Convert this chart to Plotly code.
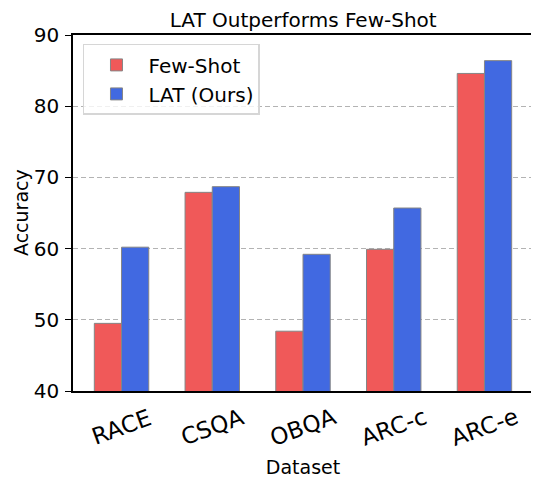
import plotly.graph_objects as go

categories = ["RACE", "CSQA", "OBQA", "ARC-c", "ARC-e"]
few_shot = [49.5, 67.9, 48.4, 59.9, 84.6]
lat_ours = [60.2, 68.7, 59.2, 65.7, 86.4]
y_ticks = [40, 50, 60, 70, 80, 90]

xi = list(range(len(categories)))
w = 0.3

fig = go.Figure()
fig.add_bar(x=[i - w / 2 for i in xi], y=few_shot, width=w, name="Few-Shot",
            legendgroup="a",
            marker=dict(color="#F05959", line=dict(color="#858585", width=1)))
fig.add_bar(x=[i + w / 2 for i in xi], y=lat_ours, width=w, name="LAT (Ours)",
            legendgroup="b",
            marker=dict(color="#4169E1", line=dict(color="#858585", width=1)))

# category labels, rotated and centred on each group (matplotlib style)
for i, c in zip(xi, categories):
    fig.add_annotation(x=i, y=-0.101, xref="x", yref="paper", text=c,
                       showarrow=False, textangle=-20, xanchor="center",
                       yanchor="middle", font=dict(size=23))

# y-axis title
fig.add_annotation(x=-0.113, y=0.5, xref="paper", yref="paper", text="Accuracy",
                   showarrow=False, textangle=-90, xanchor="center", yanchor="middle",
                   borderpad=0, font=dict(size=19))

fig.update_layout(
    width=531, height=472,
    margin=dict(l=65, r=6, t=27, b=89, autoexpand=False),
    paper_bgcolor="white", plot_bgcolor="white",
    font=dict(family="DejaVu Sans", color="black", size=19),
    title=dict(text="LAT Outperforms Few-Shot", x=0.556, xanchor="center",
               y=0.975, yanchor="middle", font=dict(size=20)),
    barmode="overlay",
    showlegend=True,
    legend=dict(x=0.0217, y=0.975, xanchor="left", yanchor="top",
                bordercolor="#d6d6d6", borderwidth=1.5, bgcolor="rgba(255,255,255,0.8)",
                font=dict(size=20), itemwidth=54, tracegroupgap=0),
    xaxis=dict(range=[-0.535, 4.535], tickmode="array", tickvals=xi,
               showticklabels=False, ticks="", showgrid=False, automargin=False,
               showline=True, linecolor="black", linewidth=1.5, mirror=True,
               title=dict(text="Dataset", font=dict(size=19), standoff=69), zeroline=False),
    yaxis=dict(range=[40, 90], tickmode="array", tickvals=y_ticks,
               tickfont=dict(size=20), ticks="outside", ticklen=6, tickcolor="black",
               tickwidth=1.3, automargin=False, ticklabelstandoff=2,
               showline=True, linecolor="black", linewidth=1.5, mirror=True,
               showgrid=True, gridcolor="#b3b3b3", griddash="5px,3px", gridwidth=1.2,
               zeroline=False),
)

fig.write_html("out.html")
